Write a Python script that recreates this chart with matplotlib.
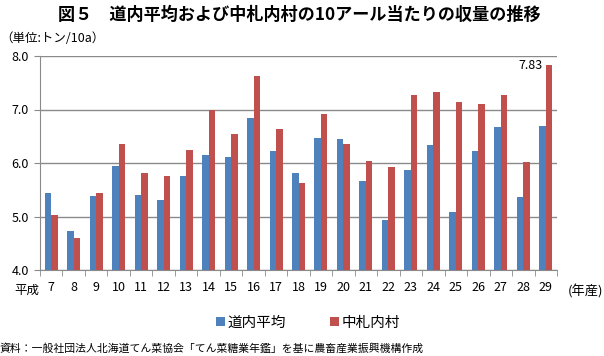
import numpy as np
import matplotlib
matplotlib.use("Agg")
import matplotlib.pyplot as plt

plt.rcParams['font.family'] = ['Noto Sans CJK JP', 'DejaVu Sans']

years = ["7", "8", "9", "10", "11", "12", "13", "14", "15", "16", "17", "18",
         "19", "20", "21", "22", "23", "24", "25", "26", "27", "28", "29"]
hokkaido_avg = [5.44, 4.72, 5.39, 5.94, 5.40, 5.31, 5.75, 6.15, 6.12, 6.85, 6.22, 5.81,
                6.46, 6.44, 5.66, 4.94, 5.87, 6.34, 5.09, 6.23, 6.68, 5.36, 6.70]
nakasatsunai = [5.03, 4.59, 5.44, 6.36, 5.81, 5.75, 6.24, 7.00, 6.54, 7.63, 6.64, 5.63,
                6.91, 6.36, 6.03, 5.93, 7.27, 7.32, 7.14, 7.11, 7.27, 6.01, 7.83]
series_names = ["道内平均", "中札内村"]
yticks = [4.0, 5.0, 6.0, 7.0, 8.0]

BLUE = "#4F81BD"
RED = "#C0504D"
GRID = "#8A8A8A"

W, H = 604, 356
fig = plt.figure(figsize=(W / 100, H / 100), dpi=100)
ax = fig.add_axes([40 / W, 1 - 270 / H, 517 / W, 214 / H])

x = np.arange(len(years))
bw = 0.29
ax.bar(x - bw / 2, hokkaido_avg, bw, color=BLUE, label=series_names[0], zorder=3)
ax.bar(x + bw / 2, nakasatsunai, bw, color=RED, label=series_names[1], zorder=3)

ax.set_ylim(4.0, 8.0)
ax.set_xlim(-0.5, len(years) - 0.5)
ax.set_yticks(yticks)
ax.set_yticklabels([f"{v:.1f}" for v in yticks], fontsize=9)
ax.yaxis.grid(True, color=GRID, lw=1.0, zorder=0)
ax.set_axisbelow(True)

# category labels centered, tick marks between categories
ax.set_xticks(x)
ax.set_xticklabels(years, fontsize=9)
ax.tick_params(axis='x', length=0, pad=8)
ax.set_xticks(np.arange(-0.5, len(years)), minor=True)
ax.tick_params(axis='x', which='minor', length=4, color=GRID, direction='out')
ax.tick_params(axis='y', length=4, color=GRID, direction='out', pad=4)

for s in ["top", "right"]:
    ax.spines[s].set_visible(False)
for s in ["left", "bottom"]:
    ax.spines[s].set_color(GRID)

ax.annotate(f"{nakasatsunai[-1]:.2f}", (x[-1], nakasatsunai[-1]),
            xytext=(-2, 0), textcoords="offset points", ha="right", va="center",
            fontsize=9)

fig.text(0.495, 1 - 15 / H, "図５　道内平均および中札内村の10アール当たりの収量の推移",
         ha="center", va="center", fontsize=12.3, fontweight="bold")
fig.text(0 / W, 1 - 38 / H, "（単位:トン/10a）", ha="left", va="center", fontsize=9)
fig.text(14 / W, 1 - 290 / H, "平成", ha="left", va="center", fontsize=9)
fig.text(603 / W, 1 - 292 / H, "(年産)", ha="right", va="center", fontsize=9.5)

fig.legend(loc="center", bbox_to_anchor=(0.51, 1 - 323 / H), ncol=2, frameon=False,
           fontsize=10.5, handlelength=0.6, handleheight=0.6, handletextpad=0.2,
           columnspacing=3.0)
fig.text(0, 1 - 348 / H, "資料：一般社団法人北海道てん菜協会「てん菜糖業年鑑」を基に農畜産業振興機構作成",
         ha="left", va="center", fontsize=7.8)

fig.savefig("out.png", dpi=100)
